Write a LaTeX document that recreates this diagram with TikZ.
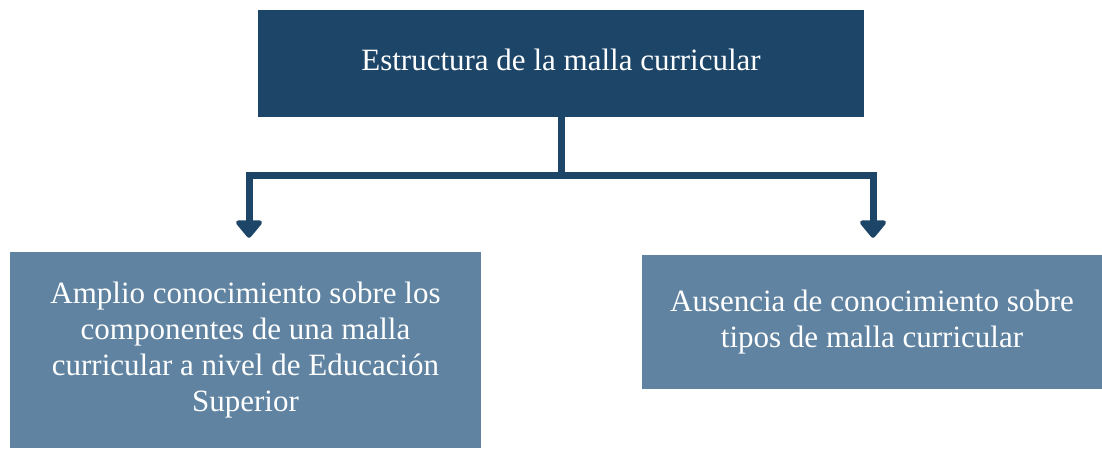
\documentclass[tikz,border=0pt]{standalone}
\usepackage{fontspec}
\setmainfont{Liberation Serif}
\usetikzlibrary{arrows.meta}
\definecolor{dark}{HTML}{1C4568}
\definecolor{soft}{HTML}{5F83A1}

\begin{document}
\begin{tikzpicture}[x=1pt,y=-1pt,
    box/.style={rectangle,draw=none,text=white,align=center,inner sep=0pt,
      font=\fontsize{31}{36}\selectfont},
    link/.style={draw=dark,line width=7pt},
    tip/.style={-{Triangle[width=30pt,length=19pt,round]}}]
      \useasboundingbox (0,0) rectangle (1102,448);

      \path
      (561,63.5) node[box,fill=dark,minimum width=606pt,minimum height=107pt](top) {}
      (561,60) node[box](title) {Estructura de la malla curricular}
      (245.5,350) node[box,fill=soft,minimum width=471pt,minimum height=196pt](left)
        {Amplio conocimiento sobre los\\
         componentes de una malla\\
         curricular a nivel de Educación\\
         Superior}
      (872,322) node[box,fill=soft,minimum width=460pt,minimum height=134pt](right)
        {Ausencia de conocimiento sobre\\
         tipos de malla curricular}
      ;
      \coordinate (bus) at (0,175);

      \draw[link] (top.south) -- (top.south |- bus);
      \draw[link,tip,shorten >=14pt] (top.south |- bus) -| ([xshift=3.5pt]left.north);
      \draw[link,tip,shorten >=17pt] (top.south |- bus) -| ([xshift=1pt]right.north);
    \end{tikzpicture}
\end{document}
